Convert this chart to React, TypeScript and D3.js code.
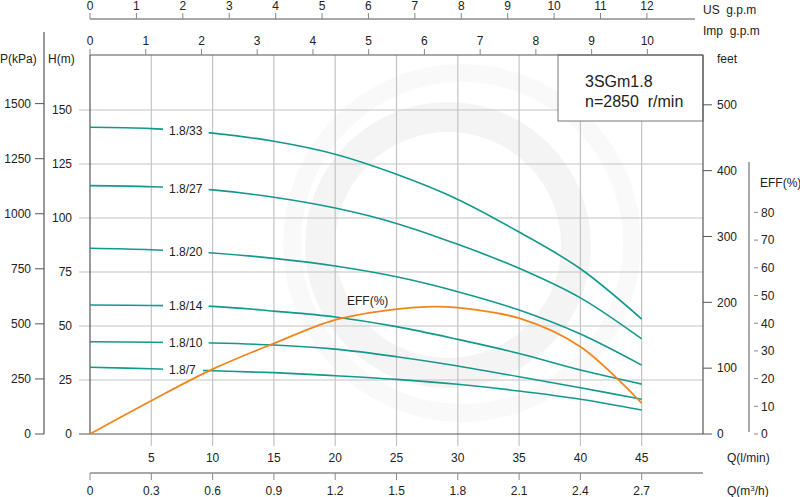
import React from "react";
import * as d3 from "d3";

// ---------- data ----------
const flowLpm = [0, 5, 10, 15, 20, 25, 30, 35, 40, 45];
const curveNames = ["1.8/33", "1.8/27", "1.8/20", "1.8/14", "1.8/10", "1.8/7"];
const head33 = [142, 141.4, 139.3, 135.5, 129.5, 120.2, 108.6, 93.5, 76.5, 53.2];
const head27 = [115, 114.5, 113, 109.6, 104.6, 97.5, 87.8, 76.7, 63, 44];
const head20 = [86, 85.3, 83.8, 81.3, 77.8, 72.8, 65.9, 57.4, 46.3, 31.9];
const head14 = [59.7, 59.5, 59.1, 56.9, 54.2, 49.7, 43.8, 37.3, 29.6, 23.1];
const head10 = [42.7, 42.5, 42.1, 41.2, 39.3, 35.8, 31.5, 26.5, 21.4, 16.1];
const head7 = [30.9, 30.2, 29.3, 28.4, 27.0, 25.3, 23.0, 19.9, 16.1, 11.1];
const heads = [head33, head27, head20, head14, head10, head7];

const effFlow = [0, 5, 10, 15, 20, 25, 28, 30, 35, 40, 45];
const effValues = [0, 12, 23.4, 32.7, 41.2, 45.1, 46, 45.6, 41.8, 31.5, 11.1];

const hTicks = [0, 25, 50, 75, 100, 125, 150];
const pTicks = [0, 250, 500, 750, 1000, 1250, 1500];
const ftTicks = [0, 100, 200, 300, 400, 500];
const effTicks = [0, 10, 20, 30, 40, 50, 60, 70, 80];
const qTicks = [5, 10, 15, 20, 25, 30, 35, 40, 45];
const m3hTicks = [0, 0.3, 0.6, 0.9, 1.2, 1.5, 1.8, 2.1, 2.4, 2.7];
const m3hLabels = ["0", "0.3", "0.6", "0.9", "1.2", "1.5", "1.8", "2.1", "2.4", "2.7"];
const usTicks = [0, 1, 2, 3, 4, 5, 6, 7, 8, 9, 10, 11, 12];
const impTicks = [0, 1, 2, 3, 4, 5, 6, 7, 8, 9, 10];

const titleLines = ["3SGm1.8", "n=2850  r/min"];

// ---------- layout ----------
const L = 90, R = 703, T = 55, B = 434;
const FONT = "'Liberation Sans', Arial, Helvetica, sans-serif";
const TEAL = "#13998c";
const ORANGE = "#f0861a";
const GRID = "#c4c4c4";
const AXIS = "#555";
const TXT = "#222";

export default function App() {
  const x = d3.scaleLinear().domain([0, 50]).range([L, R]);
  const y = d3.scaleLinear().domain([0, 150]).range([B, 110]);
  const yP = d3.scaleLinear().domain([0, 1500]).range([y(0), y(1500 / 9.80665)]);
  const yFt = d3.scaleLinear().domain([0, 500]).range([y(0), y(500 * 0.3048)]);
  const yEff = d3.scaleLinear().domain([0, 80]).range([B, 212.4]);
  const xUS = d3.scaleLinear().domain([0, 12]).range([L, x(12 * 3.78541)]);
  const xImp = d3.scaleLinear().domain([0, 10]).range([L, x(10 * 4.54609)]);
  const xM3 = d3.scaleLinear().domain([0, 3]).range([L, R]);

  const headLine = d3
    .line<number>()
    .x((_, i) => x(flowLpm[i]))
    .y((d) => y(d))
    .curve(d3.curveCatmullRom.alpha(0.5));
  const effLine = d3
    .line<number>()
    .x((_, i) => x(effFlow[i]))
    .y((d) => yEff(d))
    .curve(d3.curveCatmullRom.alpha(0.5));

  const labelX = 169;
  const labels = curveNames.map((name, k) => {
    const h = heads[k];
    const hv = (h[1] + h[2]) / 2;
    const cy = y(hv);
    const w = name.length * 5.6;
    return { name, cy, w };
  });

  const text = (props: any, s: string, key?: any) => (
    <text key={key} fontFamily={FONT} fontSize={12} fill={TXT} {...props}>
      {s}
    </text>
  );

  return (
    <svg
      width={800}
      height={497}
      style={{ position: "absolute", left: 0, top: 0, background: "#fff" }}
    >
      <defs>
        <mask id="gapMask" maskUnits="userSpaceOnUse" x={0} y={0} width={800} height={497}>
          <rect x={0} y={0} width={800} height={497} fill="white" />
          {labels.map((lb, i) => (
            <rect key={i} x={labelX - 6} y={lb.cy - 7} width={lb.w + 12} height={14} fill="black" />
          ))}
        </mask>
      </defs>

      {/* faint watermark */}
      <g opacity={0.4}>
        <circle cx={448} cy={245} r={128} fill="none" stroke="#e6e6e6" strokeWidth={30} />
        <circle cx={462} cy={243} r={170} fill="none" stroke="#f2f2f2" strokeWidth={18} />
      </g>

      {/* horizontal grid (H) */}
      {hTicks.filter((t) => t > 0).map((t) => (
        <line key={"hg" + t} x1={79} x2={R} y1={y(t)} y2={y(t)} stroke={GRID} strokeWidth={1.2} />
      ))}
      {/* vertical grid (Q) */}
      {qTicks.map((t) => (
        <line key={"vg" + t} x1={x(t)} x2={x(t)} y1={T} y2={446} stroke={GRID} strokeWidth={1.2} />
      ))}

      {/* legend box */}
      <rect x={558} y={T} width={R - 558} height={66} fill="#fff" stroke="#777" strokeWidth={1} />
      {titleLines.map((s, i) => (
        <text
          key={"tl" + i}
          x={585}
          y={87 + i * 20}
          fontFamily={FONT}
          fontSize={16}
          fill={TXT}
          style={{ whiteSpace: "pre" }}
        >
          {s}
        </text>
      ))}

      {/* plot frame */}
      <line x1={L} x2={R} y1={T} y2={T} stroke={AXIS} strokeWidth={1.2} />
      <line x1={79} x2={R} y1={B} y2={B} stroke={AXIS} strokeWidth={1.2} />
      <line x1={L} x2={L} y1={T} y2={B} stroke={AXIS} strokeWidth={1.2} />
      <line x1={R} x2={R} y1={T} y2={B} stroke={AXIS} strokeWidth={1.2} />

      {/* H axis labels */}
      {hTicks.map((t) =>
        text({ x: 72, y: y(t) + 4.3, textAnchor: "end" }, String(t), "hl" + t)
      )}
      {text({ x: 48, y: 63 }, "H(m)")}

      {/* P axis */}
      <line x1={44} x2={44} y1={32} y2={yP(0)} stroke={AXIS} strokeWidth={1.2} />
      {pTicks.map((t) => (
        <g key={"p" + t}>
          <line x1={35} x2={44} y1={yP(t)} y2={yP(t)} stroke={AXIS} strokeWidth={1} />
          {text({ x: 31, y: yP(t) + 4.3, textAnchor: "end" }, String(t))}
        </g>
      ))}
      {text({ x: 0, y: 63 }, "P(kPa)")}

      {/* feet axis */}
      {ftTicks.map((t) => (
        <g key={"ft" + t}>
          <line x1={R} x2={712} y1={yFt(t)} y2={yFt(t)} stroke={AXIS} strokeWidth={1} />
          {text({ x: 717, y: yFt(t) + 4.3 }, String(t))}
        </g>
      ))}
      {text({ x: 717, y: 63 }, "feet")}

      {/* EFF axis */}
      <line x1={749} x2={749} y1={162} y2={432} stroke={AXIS} strokeWidth={1} />
      {effTicks.map((t) => (
        <g key={"ef" + t}>
          <line x1={754} x2={758} y1={yEff(t)} y2={yEff(t)} stroke="#888" strokeWidth={1} />
          {text({ x: 761, y: yEff(t) + 4.3 }, String(t))}
        </g>
      ))}
      {text({ x: 760, y: 187 }, "EFF(%)")}

      {/* Q l/min labels */}
      {qTicks.map((t) => text({ x: x(t), y: 461.5, textAnchor: "middle" }, String(t), "q" + t))}
      {text({ x: 727, y: 461.5 }, "Q(l/min)")}

      {/* m3/h axis */}
      <line x1={L} x2={R} y1={473} y2={473} stroke={AXIS} strokeWidth={1.2} />
      {m3hTicks.map((t, i) => (
        <g key={"m" + t}>
          <line x1={xM3(t)} x2={xM3(t)} y1={473} y2={480} stroke="#888" strokeWidth={1} />
          {text({ x: xM3(t), y: 494.5, textAnchor: "middle" }, m3hLabels[i])}
        </g>
      ))}
      <text x={727} y={494.5} fontFamily={FONT} fontSize={12} fill={TXT}>
        Q(m<tspan fontSize={8} dy={-4}>3</tspan>
        <tspan dy={4}>/h)</tspan>
      </text>

      {/* US gpm axis */}
      <line x1={L} x2={695} y1={19} y2={19} stroke={AXIS} strokeWidth={1.2} />
      {usTicks.map((t) => (
        <g key={"us" + t}>
          <line x1={xUS(t)} x2={xUS(t)} y1={13} y2={19} stroke="#888" strokeWidth={1} />
          {text({ x: xUS(t), y: 9.5, textAnchor: "middle" }, String(t))}
        </g>
      ))}
      <text x={703} y={13.5} fontFamily={FONT} fontSize={12} fill={TXT} style={{ whiteSpace: "pre" }}>
        {"US  g.p.m"}
      </text>

      {/* Imp gpm axis */}
      {impTicks.map((t) => (
        <g key={"imp" + t}>
          <line x1={xImp(t)} x2={xImp(t)} y1={49} y2={T} stroke="#888" strokeWidth={1} />
          {text({ x: xImp(t), y: 44.5, textAnchor: "middle" }, String(t))}
        </g>
      ))}
      <text x={703} y={35} fontFamily={FONT} fontSize={12} fill={TXT} style={{ whiteSpace: "pre" }}>
        {"Imp  g.p.m"}
      </text>

      {/* head curves */}
      <g mask="url(#gapMask)">
        {heads.map((h, i) => (
          <path key={"c" + i} d={headLine(h) || ""} fill="none" stroke={TEAL} strokeWidth={1.6} />
        ))}
      </g>
      {labels.map((lb, i) =>
        text({ x: labelX, y: lb.cy + 4.5 }, lb.name, "lb" + i)
      )}

      {/* efficiency */}
      <path d={effLine(effValues) || ""} fill="none" stroke={ORANGE} strokeWidth={1.8} />
      {text({ x: 347, y: 305 }, "EFF(%)")}
    </svg>
  );
}
